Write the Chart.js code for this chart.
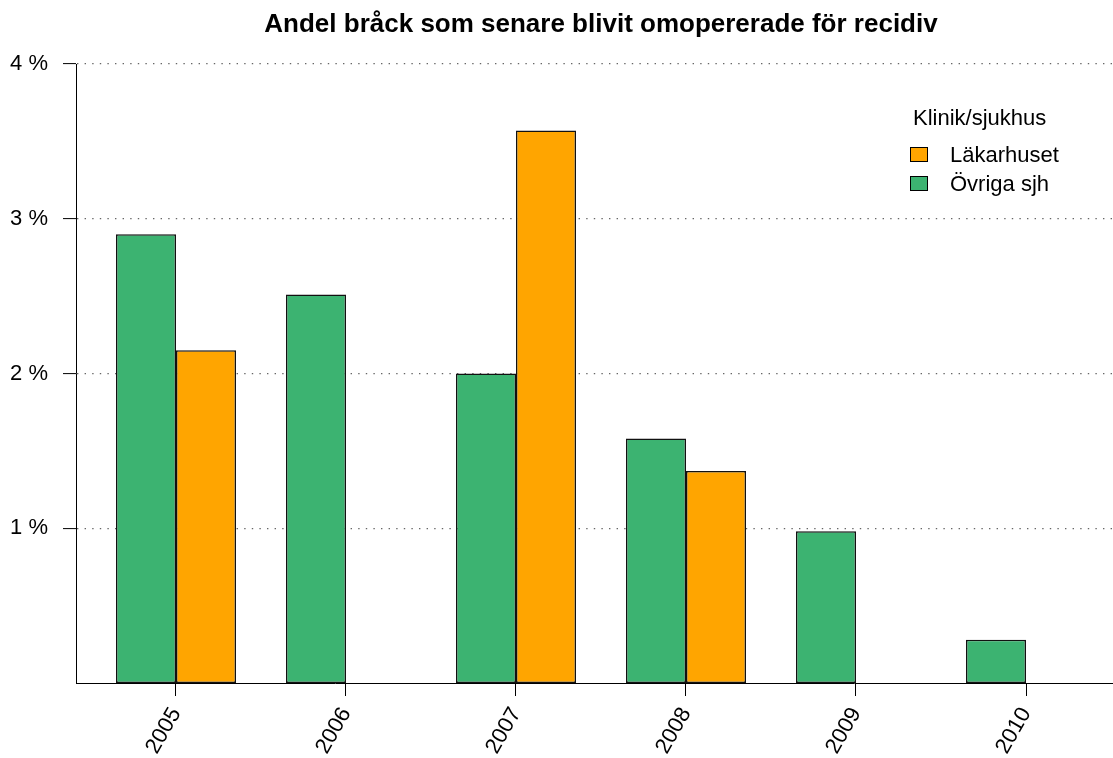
<!DOCTYPE html>
<html>
<head>
<meta charset="utf-8">
<script src="https://cdn.jsdelivr.net/npm/chart.js@4/dist/chart.umd.min.js"></script>
<style>
  html, body { margin: 0; padding: 0; background: #fff; }
  #wrap { width: 1113px; height: 758px; }
</style>
</head>
<body>
<div id="wrap"><canvas id="chart" width="1113" height="758"></canvas></div>
<script>
const years = [2005, 2006, 2007, 2008, 2009, 2010];
const ovriga = [2.90, 2.51, 2.00, 1.58, 0.98, 0.28];
const lakarhuset = [2.15, 0, 3.57, 1.37, 0, 0];
const yTicks = [1, 2, 3, 4];
const title = 'Andel bråck som senare blivit omopererade för recidiv';
const legendTitle = 'Klinik/sjukhus';

const FONT = '"Liberation Sans", Arial, sans-serif';

// title + legend drawn on the canvas, like R's base graphics
const decor = {
  id: 'decor',
  afterDraw(chart) {
    const ctx = chart.ctx;
    ctx.save();
    ctx.fillStyle = '#000';
    ctx.textBaseline = 'alphabetic';
    ctx.font = 'bold 26px ' + FONT;
    ctx.textAlign = 'center';
    ctx.fillText(title, 601, 32);

    ctx.textAlign = 'left';
    ctx.font = '22px ' + FONT;
    ctx.fillText(legendTitle, 913, 125);
    const sets = chart.data.datasets.slice().reverse();
    sets.forEach((ds, i) => {
      const y = 147 + i * 29;
      ctx.fillStyle = ds.backgroundColor;
      ctx.fillRect(910, y, 18, 15);
      ctx.strokeStyle = '#000';
      ctx.lineWidth = 1;
      ctx.strokeRect(910.5, y + 0.5, 17, 14);
      ctx.fillStyle = '#000';
      ctx.fillText(ds.label, 950, y + 15);
    });
    ctx.restore();
  }
};

new Chart(document.getElementById('chart'), {
  type: 'bar',
  data: {
    datasets: [
      {
        label: 'Övriga sjh',
        data: years.map((yr, i) => ({x: yr, y: ovriga[i]})),
        backgroundColor: '#3CB371',
        borderColor: '#111',
        borderWidth: 1.5,
        borderSkipped: false
      },
      {
        label: 'Läkarhuset',
        data: years.map((yr, i) => ({x: yr, y: lakarhuset[i]})),
        backgroundColor: '#FFA500',
        borderColor: '#111',
        borderWidth: 1.5,
        borderSkipped: false
      }
    ]
  },
  options: {
    responsive: false,
    animation: false,
    categoryPercentage: 120 / 170,
    barPercentage: 1,
    layout: {padding: {top: 64, left: 0, right: 0, bottom: 0}},
    plugins: {
      legend: {display: false},
      title: {display: false},
      tooltip: {enabled: false}
    },
    scales: {
      x: {
        type: 'linear',
        offset: false,
        min: 2005 - 100 / 170,
        max: 2005 - 100 / 170 + 1037 / 170,
        afterBuildTicks: s => { s.ticks = years.map(v => ({value: v})); },
        afterFit: s => { s.height = 75; },
        ticks: {
          autoSkip: false,
          minRotation: 60,
          maxRotation: 60,
          padding: 7,
          color: '#000',
          font: {family: FONT, size: 22},
          callback: v => String(v)
        },
        grid: {
          offset: false,
          drawOnChartArea: false,
          tickLength: 13,
          tickColor: '#000',
          color: '#000'
        },
        border: {color: '#000', width: 1}
      },
      y: {
        min: 0,
        max: 4,
        afterBuildTicks: s => { s.ticks = yTicks.map(v => ({value: v})); },
        afterFit: s => { s.width = 76; },
        ticks: {
          padding: 15,
          color: '#000',
          font: {family: FONT, size: 22},
          callback: v => v + ' %'
        },
        grid: {
          color: '#666',
          lineWidth: 1.2,
          tickLength: 13,
          tickColor: '#000',
          tickWidth: 1
        },
        border: {color: '#000', width: 1, dash: [1.4, 6.2]}
      }
    }
  },
  plugins: [decor]
});
</script>
</body>
</html>
